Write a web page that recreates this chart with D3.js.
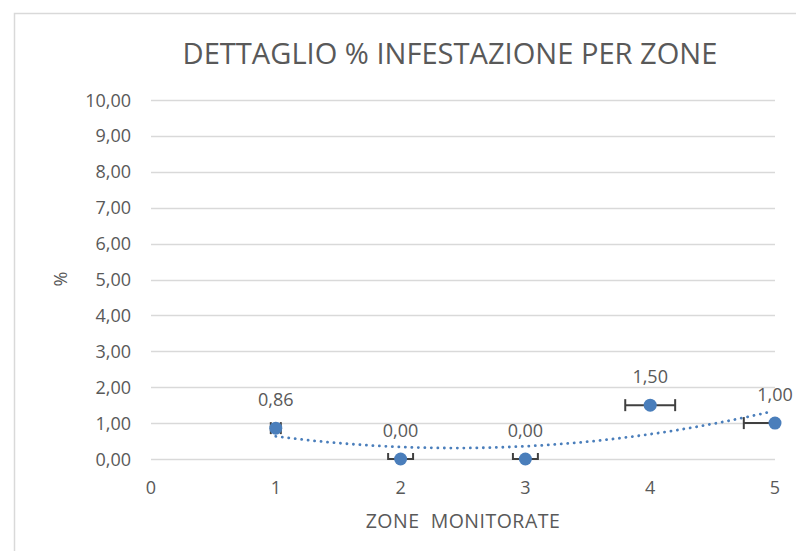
<!DOCTYPE html>
<html lang="it">
<head>
<meta charset="UTF-8" />
<script src="https://cdn.jsdelivr.net/npm/d3@7"></script>
<style>
  body { margin: 0; background: #fff; }
  text { font-family: "Open Sans", sans-serif; fill: #595959; }
</style>
</head>
<body>
<script>
// data
var zones = [1, 2, 3, 4, 5];
var infestation = [0.86, 0, 0, 1.5, 1];
var xError = [0.04, 0.1, 0.1, 0.2, 0.25];
var yTicks = [0, 1, 2, 3, 4, 5, 6, 7, 8, 9, 10];
var xTicks = [0, 1, 2, 3, 4, 5];

var w = 796, h = 551;
var svg = d3.select("body").append("svg").attr("width", w).attr("height", h);

// chart border
svg.append("rect").attr("x", 14.5).attr("y", 13.5).attr("width", 900).attr("height", 600)
  .attr("fill", "none").attr("stroke", "#d9d9d9").attr("stroke-width", 1.5);

var x = d3.scaleLinear().domain([0, 5]).range([151, 775]);
var y = d3.scaleLinear().domain([0, 10]).range([459, 100]);

// gridlines
svg.selectAll("line.grid").data(yTicks).enter().append("line")
  .attr("class", "grid")
  .attr("x1", x(0)).attr("x2", x(5))
  .attr("y1", function (d) { return Math.round(y(d)) + 0.5; })
  .attr("y2", function (d) { return Math.round(y(d)) + 0.5; })
  .attr("stroke", "#d9d9d9").attr("stroke-width", 1.5);

// y labels
svg.selectAll("text.ylab").data(yTicks).enter().append("text")
  .attr("class", "ylab")
  .attr("x", 131).attr("y", function (d) { return y(d) + 6.5; })
  .attr("text-anchor", "end").attr("font-size", "18px")
  .text(function (d) { return d3.format(".2f")(d).replace(".", ","); });

// x labels
svg.selectAll("text.xlab").data(xTicks).enter().append("text")
  .attr("class", "xlab")
  .attr("x", function (d) { return x(d); }).attr("y", 494)
  .attr("text-anchor", "middle").attr("font-size", "18px")
  .text(function (d) { return d; });

// titles
var title = svg.append("text").attr("x", 450).attr("y", 64)
  .attr("text-anchor", "middle").attr("font-size", "28px")
  .text("DETTAGLIO % INFESTAZIONE PER ZONE");
var tl = title.node().getComputedTextLength();
title.attr("font-size", (28 * 535 / tl) + "px");

svg.append("text").attr("x", 463).attr("y", 528)
  .attr("text-anchor", "middle").attr("font-size", "19.5px")
  .attr("letter-spacing", "0.5px")
  .style("white-space", "pre")
  .text("ZONE  MONITORATE");

svg.append("text").attr("transform", "translate(67,279) rotate(-90)")
  .attr("text-anchor", "middle").attr("font-size", "18px")
  .text("%");

// polynomial trendline (order 2, least squares)
var mx = d3.mean(zones);
var t = zones.map(function (v) { return v - mx; });
var t2m = d3.mean(t, function (v) { return v * v; });
var p2 = t.map(function (v) { return v * v - t2m; });
var a0 = d3.mean(infestation);
var a1 = d3.sum(t, function (v, i) { return v * infestation[i]; }) / d3.sum(t, function (v) { return v * v; });
var a2 = d3.sum(p2, function (v, i) { return v * infestation[i]; }) / d3.sum(p2, function (v) { return v * v; });
function trend(xv) { var tv = xv - mx; return a0 + a1 * tv + a2 * (tv * tv - t2m); }
var trendPts = d3.range(1, 4.971, 0.03).map(function (xv) { return [xv, trend(xv)]; });
svg.append("path")
  .datum(trendPts)
  .attr("d", d3.line().x(function (d) { return x(d[0]); }).y(function (d) { return y(d[1]); }))
  .attr("fill", "none").attr("stroke", "#4a7ebb").attr("stroke-width", 2.8)
  .attr("stroke-dasharray", "0.1,6.4").attr("stroke-linecap", "round");

// error bars, clipped to plot area
svg.append("clipPath").attr("id", "plotclip").append("rect")
  .attr("x", x(0)).attr("y", y(10)).attr("width", x(5) - x(0)).attr("height", y(0) - y(10) + 1);
var eb = svg.append("g").attr("clip-path", "url(#plotclip)")
  .attr("stroke", "#404040").attr("stroke-width", 2);
zones.forEach(function (z, i) {
  var yy = y(infestation[i]);
  var xl = x(z - xError[i]), xr = x(z + xError[i]);
  eb.append("line").attr("x1", xl).attr("x2", xr).attr("y1", yy).attr("y2", yy);
  eb.append("line").attr("x1", xl).attr("x2", xl).attr("y1", yy - 6).attr("y2", yy + 6);
  eb.append("line").attr("x1", xr).attr("x2", xr).attr("y1", yy - 6).attr("y2", yy + 6);
});

// markers
svg.selectAll("circle.pt").data(zones).enter().append("circle")
  .attr("class", "pt")
  .attr("cx", function (d) { return x(d); })
  .attr("cy", function (d, i) { return y(infestation[i]); })
  .attr("r", 6.5).attr("fill", "#4a7ebb");

// data labels
svg.selectAll("text.dl").data(zones).enter().append("text")
  .attr("class", "dl")
  .attr("x", function (d) { return x(d); })
  .attr("y", function (d, i) { return y(infestation[i]) - 22; })
  .attr("text-anchor", "middle").attr("font-size", "18px")
  .text(function (d, i) { return d3.format(".2f")(infestation[i]).replace(".", ","); });
</script>
</body>
</html>
